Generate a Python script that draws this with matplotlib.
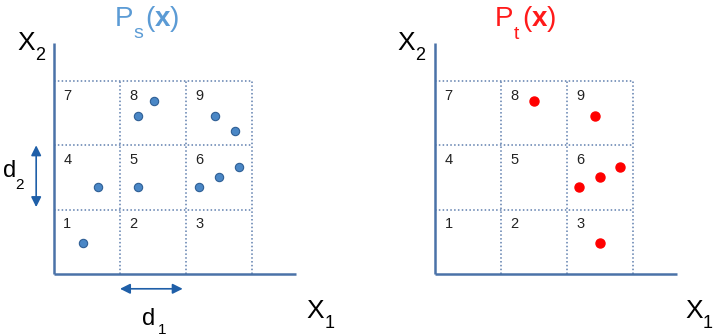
import matplotlib
matplotlib.use("Agg")
import matplotlib.pyplot as plt

plt.rcParams['mathtext.fontset'] = 'custom'
plt.rcParams['mathtext.rm'] = 'Liberation Sans'
plt.rcParams['mathtext.it'] = 'Liberation Sans'
plt.rcParams['mathtext.bf'] = 'Liberation Sans:bold'
plt.rcParams['font.family'] = ['Liberation Sans', 'DejaVu Sans']

# ---- data ----
cell_labels = ['1', '2', '3', '4', '5', '6', '7', '8', '9']
source_x1 = [0.44, 0.66, 1.28, 1.28, 1.51, 2.44, 2.74, 2.20, 2.50, 2.81]
source_x2 = [0.48, 1.35, 1.35, 2.46, 2.69, 2.46, 2.22, 1.35, 1.51, 1.67]
target_x1 = [1.50, 2.43, 2.19, 2.50, 2.81, 2.50]
target_x2 = [2.69, 2.46, 1.35, 1.51, 1.67, 0.48]
title_subs = ['s', 't']

W, H = 713, 336
fig = plt.figure(figsize=(W / 100, H / 100), dpi=100)

axis_color = '#4a72a8'
grid_color = '#5f7fae'
arrow_color = '#1f5fa8'
src_color = '#4a87c6'
src_edge = '#2f5f95'
tgt_color = '#ff0000'
title_colors = ['#5b9bd5', '#ff1a1a']

UNIT_Y = 64.33
ORIGIN_PY = 274

def make_panel(px_left, px_right, origin_px, unit_x):
    ax = fig.add_axes([px_left / W, 0, (px_right - px_left) / W, 1])
    ax.set_xlim((px_left - origin_px) / unit_x, (px_right - origin_px) / unit_x)
    ax.set_ylim((ORIGIN_PY - H) / UNIT_Y, ORIGIN_PY / UNIT_Y)
    ax.axis('off')
    ax._o = (origin_px, unit_x)
    return ax

def ptext(ax, px, py, s, size, **kw):
    o, u = ax._o
    ax.text((px - o) / u, (ORIGIN_PY - py) / UNIT_Y, s, fontsize=size,
            ha='left', va='baseline', **kw)

def draw_common(ax, dx):
    for v in [1, 2, 3]:
        ax.plot([v, v], [0, 3], ls=(0, (1, 1.5)), color=grid_color, lw=1.1)
        ax.plot([0, 3], [v, v], ls=(0, (1, 1.5)), color=grid_color, lw=1.1)
    ax.plot([0, 0], [0, 3.59], color=axis_color, lw=1.8, solid_capstyle='butt')
    ax.plot([0, 3.67], [0, 0], color=axis_color, lw=1.8, solid_capstyle='butt')
    for k, lab in enumerate(cell_labels):
        i, j = k % 3, k // 3
        ax.text(i + 0.14, j + 1 - 0.29, lab, fontsize=10.5, color='#222222',
                ha='left', va='baseline')
    # X2 label
    ptext(ax, 17 + dx, 50, 'X', 19)
    ptext(ax, 35 + dx, 60, '2', 13)

# left panel
axL = make_panel(0, 356, 54, 66)
draw_common(axL, 0)
ptext(axL, 306, 318, 'X', 19)
ptext(axL, 325, 328, '1', 13)
ptext(axL, 115, 26, 'P', 20, color=title_colors[0])
ptext(axL, 133, 38, title_subs[0], 14, color=title_colors[0])
ptext(axL, 145, 26, r'$\mathrm{(}\mathbf{x}\mathrm{)}$', 20, color=title_colors[0])
axL.plot(source_x1, source_x2, 'o', ms=6, color=src_color, mec=src_edge, mew=0.8)
ptext(axL, 3, 177, 'd', 17)
ptext(axL, 15, 189, '2', 11)
ptext(axL, 142, 325, 'd', 17)
ptext(axL, 158, 334, '1', 11)
axL.annotate('', xy=(-0.27, 2.0), xytext=(-0.27, 1.04),
             arrowprops=dict(arrowstyle='<|-|>', color=arrow_color, lw=1.2,
                             mutation_scale=15, shrinkA=0, shrinkB=0))
axL.annotate('', xy=(1.95, -0.23), xytext=(1.0, -0.23),
             arrowprops=dict(arrowstyle='<|-|>', color=arrow_color, lw=1.2,
                             mutation_scale=15, shrinkA=0, shrinkB=0))

# right panel
axR = make_panel(356, 713, 435.3, 65.8)
draw_common(axR, 380)
ptext(axR, 685, 318, 'X', 19)
ptext(axR, 703, 328, '1', 13)
ptext(axR, 495, 26, 'P', 20, color=title_colors[1])
ptext(axR, 514, 39, title_subs[1], 14, color=title_colors[1])
ptext(axR, 522, 26, r'$\mathrm{(}\mathbf{x}\mathrm{)}$', 20, color=title_colors[1])
axR.plot(target_x1, target_x2, 'o', ms=6.5, color=tgt_color, mec=tgt_color)

fig.savefig('out.png', dpi=100)
